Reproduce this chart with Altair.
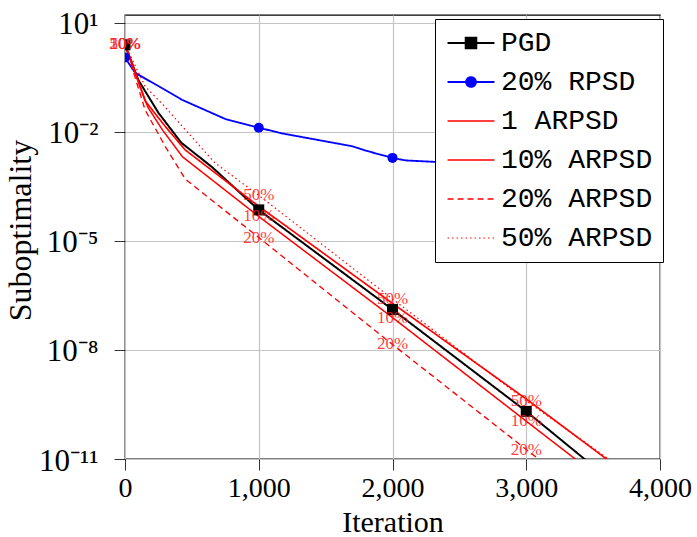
import altair as alt
import pandas as pd

# ---------------- data (log10 of suboptimality) ----------------
series_names = ["PGD", "20% RPSD", "1 ARPSD", "10% ARPSD", "20% ARPSD", "50% ARPSD"]

pgd_x = [0, 100, 250, 420, 650, 1000, 2000, 3000, 4000]
pgd_log = [0.39, -0.58, -1.48, -2.30, -2.97, -4.15, -6.89, -9.69, -12.7]

rpsd_x = [0, 75, 300, 425, 750, 1000, 1180, 1700, 1800, 2000, 2100, 2320, 3000, 4000]
rpsd_log = [0.04, -0.38, -0.85, -1.12, -1.65, -1.89, -2.05, -2.40, -2.52, -2.72, -2.79, -2.83, -2.95, -3.10]

arpsd1_x = [0, 150, 300, 450, 1000, 2000, 3000, 4000]
arpsd1_log = [0.40, -1.15, -1.85, -2.50, -4.05, -6.72, -9.35, -12.1]

arpsd10_x = [0, 170, 280, 430, 1000, 2000, 3000, 4000]
arpsd10_log = [0.40, -1.32, -1.95, -2.69, -4.33, -7.11, -9.96, -12.8]

arpsd20_x = [0, 150, 300, 450, 1000, 2000, 3000, 4000]
arpsd20_log = [0.40, -1.40, -2.40, -3.30, -4.91, -7.85, -10.74, -13.6]

arpsd50_x = [0, 150, 300, 670, 1000, 2000, 3000, 4000]
arpsd50_log = [0.40, -0.75, -1.32, -2.85, -3.75, -6.60, -9.40, -12.0]

marker_x = [0, 1000, 2000, 3000]
text_marks = {"10% ARPSD": "10%", "20% ARPSD": "20%", "50% ARPSD": "50%"}

x_ticks = [0, 1000, 2000, 3000, 4000]
y_tick_values = [1e1, 1e-2, 1e-5, 1e-8, 1e-11]
y_tick_labels = ["10¹", "10⁻²", "10⁻⁵", "10⁻⁸", "10⁻¹¹"]

# ---------------- tables ----------------
all_series = [
    ("PGD", pgd_x, pgd_log),
    ("20% RPSD", rpsd_x, rpsd_log),
    ("1 ARPSD", arpsd1_x, arpsd1_log),
    ("10% ARPSD", arpsd10_x, arpsd10_log),
    ("20% ARPSD", arpsd20_x, arpsd20_log),
    ("50% ARPSD", arpsd50_x, arpsd50_log),
]
rows, mrows = [], []
for name, xs, ls in all_series:
    for xv, lv in zip(xs, ls):
        rows.append({"series": name, "x": xv, "y": 10 ** lv})
        if xv in marker_x:
            mrows.append({"series": name, "x": xv, "y": 10 ** lv,
                          "lab": text_marks.get(name, "")})
df = pd.DataFrame(rows)
mdf = pd.DataFrame(mrows)

colors = ["black", "#0000ff", "#ff0000", "#ff0000", "#ff0000", "#ff0000"]
dashes = [[1, 0], [1, 0], [1, 0], [1, 0], [6, 4], [1.5, 3]]
widths = [2.0, 1.2, 1.2, 1.2, 1.2, 1.2]
PGD_PATH = "M-2,0H2M-0.45,-0.45H0.45V0.45H-0.45Z"
RPSD_PATH = "M-2,0H2M0.42,0A0.42,0.42,0,1,1,-0.42,0A0.42,0.42,0,1,1,0.42,0Z"
LINE_PATH = "M-2,0H2"
shapes = [PGD_PATH, RPSD_PATH, LINE_PATH, LINE_PATH, LINE_PATH, LINE_PATH]

label_expr = " : ".join(
    f"datum.value > {v * 0.5} ? '{t}'" for v, t in zip(y_tick_values[:-1], y_tick_labels[:-1])
) + f" : '{y_tick_labels[-1]}'"

SERIF = "Liberation Serif"

x_scale = alt.Scale(domain=[0, 4000], nice=False)
y_scale = alt.Scale(type="log", domain=[1e-11, 10 ** 1.21], nice=False)

x_axis = alt.Axis(values=x_ticks, format=",d", title="Iteration", grid=True,
                  labelFlush=False, labelOverlap=False, labelPadding=4, labelFontSize=28,
                  titleY=72, titleBaseline="alphabetic", titleFontSize=30)
y_axis = alt.Axis(values=y_tick_values, labelExpr=label_expr, title="Suboptimality",
                  grid=True, labelFlush=False, labelOverlap=False, labelPadding=16,
                  labelOffset=2, labelFontSize=31,
                  titleX=-88, titleY=215, titleAngle=-90, titleBaseline="bottom")

legend = alt.Legend(
    title=None, orient="none", legendX=310, legendY=4,
    fillColor="white", strokeColor="black", padding=10,
    labelFont="Liberation Mono", labelFontSize=28, labelColor="black", labelLimit=400,
    symbolSize=550, symbolOffset=12, labelOffset=16, rowPadding=11,
    symbolStrokeWidth=1.3, symbolOpacity=1,
)

col_scale = alt.Scale(domain=series_names, range=colors)
dash_scale = alt.Scale(domain=series_names, range=dashes)

# legend-only layer (draws nothing: its rows are all filtered away)
legend_layer = alt.Chart(df).transform_filter("false").mark_point(
    filled=True, strokeWidth=1.3, opacity=1).encode(
    x=alt.X("x:Q", scale=x_scale, axis=x_axis),
    y=alt.Y("y:Q", scale=y_scale, axis=y_axis),
    color=alt.Color("series:N", scale=col_scale, legend=legend),
    stroke=alt.Stroke("series:N", scale=alt.Scale(domain=series_names, range=colors), legend=legend),
    shape=alt.Shape("series:N", scale=alt.Scale(domain=series_names, range=shapes), legend=legend),
    strokeDash=alt.StrokeDash("series:N", scale=dash_scale, legend=legend),
)

lines = alt.Chart(df).mark_line(clip=True).encode(
    x=alt.X("x:Q", scale=x_scale, axis=x_axis),
    y=alt.Y("y:Q", scale=y_scale, axis=y_axis),
    color=alt.Color("series:N", scale=col_scale, legend=None),
    strokeDash=alt.StrokeDash("series:N", scale=dash_scale, legend=None),
    strokeWidth=alt.StrokeWidth("series:N", scale=alt.Scale(domain=series_names, range=widths), legend=None),
)

squares = alt.Chart(mdf).transform_filter(alt.datum.series == "PGD").mark_square(
    size=121, color="black", opacity=1, clip=True).encode(x="x:Q", y="y:Q")
circles = alt.Chart(mdf).transform_filter(alt.datum.series == "20% RPSD").mark_circle(
    size=100, color="#0000ff", opacity=1, clip=True).encode(x="x:Q", y="y:Q")
texts = alt.Chart(mdf).transform_filter(alt.datum.lab != "").mark_text(
    font=SERIF, fontSize=17, color="#ff2020", opacity=0.85, align="center", baseline="middle"
).encode(x="x:Q", y="y:Q", text="lab:N")

chart = alt.layer(legend_layer, lines, squares, circles, texts).properties(
    width=535, height=444,
    padding={"left": 125, "top": 15, "right": 37, "bottom": 78},
    autosize=alt.AutoSizeParams(type="none"),
    background="white",
).configure_view(stroke="black", strokeWidth=1.3).configure_axis(
    labelFont=SERIF, labelColor="black",
    titleFont=SERIF, titleFontSize=32, titleFontWeight="normal", titleColor="black",
    gridColor="#c4c4c4", gridWidth=1.2, domain=False,
    tickColor="black", tickWidth=0.8, tickSize=11,
)

chart.save("out.html", embed_options={"renderer": "svg", "actions": False})
